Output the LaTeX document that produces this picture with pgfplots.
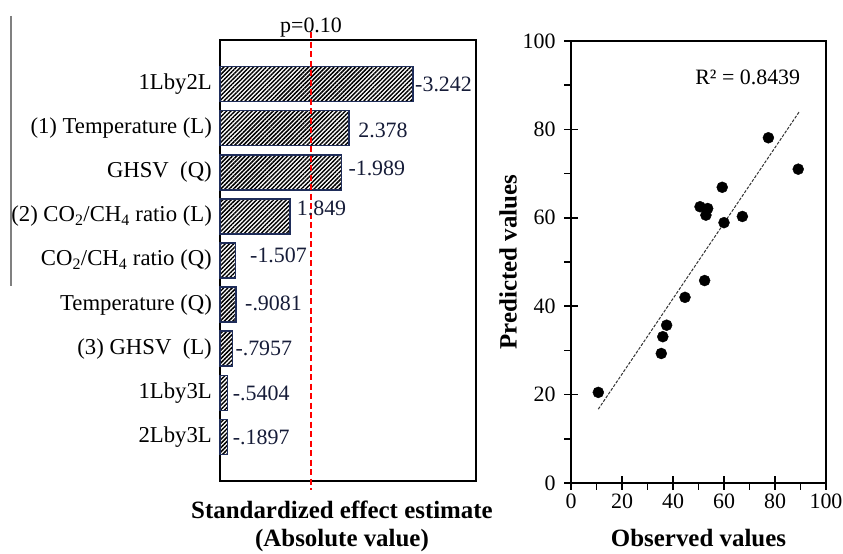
\documentclass[border=0pt]{standalone}
\usepackage{pgfplots}
\pgfplotsset{compat=1.18}
\usepackage{fontspec}
\setmainfont{Liberation Serif}
\usetikzlibrary{patterns.meta}
\definecolor{barnavy}{RGB}{31,45,90}
\definecolor{valnavy}{RGB}{22,28,56}
\newcommand{\fs}{\fontsize{22}{26}\selectfont}
\newcommand{\fc}{\fontsize{22.8}{26}\selectfont}
\newcommand{\fb}{\bfseries\fontsize{25}{28}\selectfont}
\begin{document}
\begin{tikzpicture}[x=1bp,y=1bp]
\path[use as bounding box] (0,0) rectangle (843,554);
\draw[gray, line width=2bp] (11,538) -- (11,268);

\begin{axis}[
  at={(220bp,73bp)}, anchor=south west,
  width=256bp, height=441bp, scale only axis,
  xmin=0, xmax=4.3, ymin=0, ymax=10, y dir=reverse,
  xtick=\empty,
  ytick={1,2,3,4,5,6,7,8,9},
  yticklabels={1Lby2L, (1) Temperature (L), GHSV\ \ (Q), (2) CO\textsubscript{2}/CH\textsubscript{4} ratio (L), CO\textsubscript{2}/CH\textsubscript{4} ratio (Q), Temperature (Q), (3) GHSV\ \ (L), 1Lby3L, 2Lby3L},
  major tick length=0pt,
  yticklabel style={font=\fc, inner sep=0pt, xshift=-8bp},
  axis line style={line width=2bp},
  clip=false,
  bar width=35bp,
  xlabel={Standardized effect estimate\\(Absolute value)},
  xlabel style={align=center, font=\fb, at={(axis description cs:0.5,0)}, anchor=north, inner sep=0pt, xshift=-6bp, yshift=-20bp},
]
\addplot[xbar, draw=barnavy, line width=1.5bp,
  pattern={Lines[angle=45,distance=3bp,line width=1.5bp]}, pattern color=black]
  coordinates {(3.242,1) (2.167,2) (2.044,3) (1.176,4) (0.264,5) (0.269,6) (0.207,7) (0.129,8) (0.125,9)};
\addplot[red, line width=1.5bp, dash pattern=on 6bp off 3.5bp]
  coordinates {(1.529,-0.18) (1.529,10.2)};
\node[anchor=base, font=\fs, inner sep=0pt] at (axis cs:1.529,-0.16) {p=0.10};
\begin{scope}[every node/.style={anchor=west, inner sep=0pt, text=valnavy, font=\fs}]
\node at (axis cs:3.276,1.0) {-3.242};
\node at (axis cs:2.32,2.06) {2.378};
\node at (axis cs:2.155,2.91) {-1.989};
\node at (axis cs:1.288,3.82) {1.849};
\node at (axis cs:0.504,4.875) {-1.507};
\node at (axis cs:0.42,5.97) {-.9081};
\node at (axis cs:0.257,6.99) {-.7957};
\node at (axis cs:0.213,8.01) {-.5404};
\node at (axis cs:0.213,9.0) {-.1897};
\end{scope}
\end{axis}

\begin{axis}[
  at={(571bp,71bp)}, anchor=south west,
  width=255bp, height=442bp, scale only axis,
  xmin=0, xmax=100, ymin=0, ymax=100,
  xtick={0,20,...,100}, ytick={0,20,...,100},
  xtick pos=bottom, ytick pos=left,
  tick align=center, major tick length=14bp,
  extra x ticks={10,30,50,70,90}, extra x tick labels={},
  extra x tick style={tick align=outside, major tick length=7bp},
  extra y ticks={10,30,50,70,90}, extra y tick labels={},
  extra y tick style={tick align=outside, major tick length=7bp},
  tick style={line width=1.5bp, black},
  axis line style={line width=2bp},
  tick label style={font=\fs},
  yticklabel style={xshift=-5bp},
  /pgf/number format/assume math mode=true,
  xlabel={Observed values}, ylabel={Predicted values},
  label style={font=\fb},
  ylabel style={at={(axis description cs:-0.247,0.5)}, anchor=center},
  clip=false,
]
\addplot[black!80, line width=1bp, dash pattern=on 3bp off 1.5bp]
  coordinates {(10.7,16.7) (89.4,83.9)};
\addplot[only marks, mark=*, mark size=5.5bp, black]
  coordinates {(77.4,78.1) (89.1,71.0) (59.3,66.9) (50.6,62.5) (53.6,62.1) (52.9,60.6) (60.0,58.9) (67.2,60.3) (52.4,45.8) (44.7,42.0) (37.5,35.7) (36.0,33.1) (35.4,29.3) (10.7,20.5)};
\node[font=\fs] at (axis cs:69.3,91.8) {R² = 0.8439};
\end{axis}
\end{tikzpicture}
\end{document}
